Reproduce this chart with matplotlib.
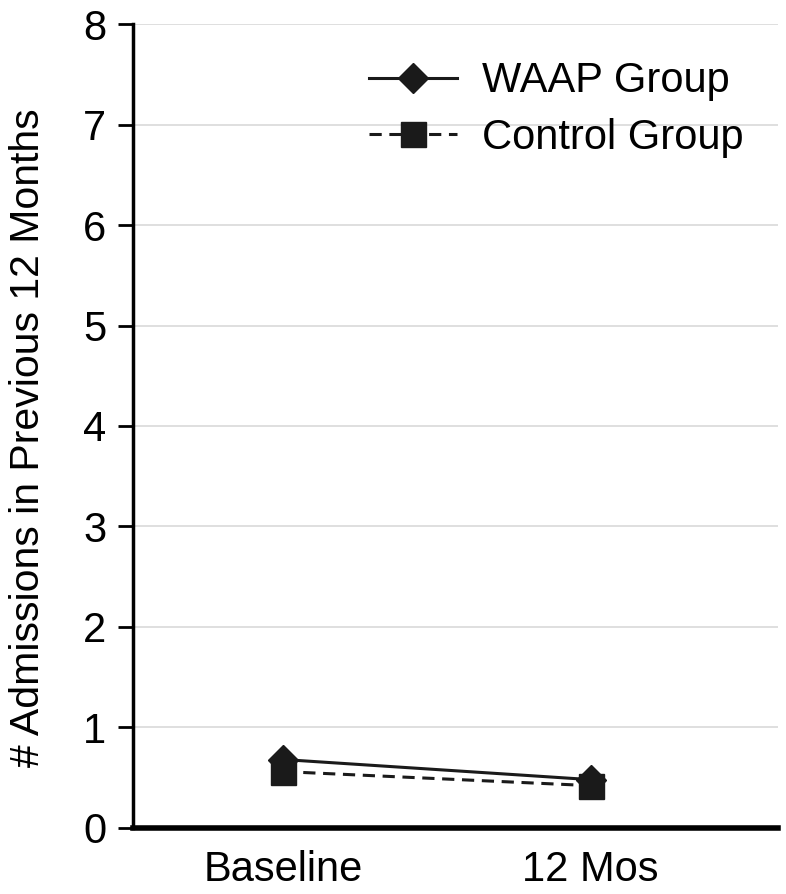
import matplotlib
matplotlib.use("Agg")
import matplotlib.pyplot as plt

timepoints = ["Baseline", "12 Mos"]
waap_group = [0.68, 0.48]
control_group = [0.56, 0.42]
y_ticks = [0, 1, 2, 3, 4, 5, 6, 7, 8]

plt.rcParams["font.family"] = ["Liberation Sans", "DejaVu Sans"]

fig = plt.figure(figsize=(7.86, 8.94), dpi=100)
ax = fig.add_axes([0.169, 0.074, 0.821, 0.899])

x = list(range(len(timepoints)))
ax.plot(x, waap_group, color="#1a1a1a", lw=2.2, marker="D", ms=15,
        label="WAAP Group", zorder=3)
ax.plot(x, control_group, color="#1a1a1a", lw=2.2, ls=(0, (4, 2.5)), marker="s",
        ms=18, label="Control Group", zorder=3)

ax.set_ylim(0, 8)
ax.set_xlim(-0.49, 1.61)
ax.set_yticks(y_ticks)
ax.set_xticks(x)
ax.set_xticklabels(timepoints)
ax.yaxis.grid(True, color="#d9d9d9", lw=1.2)
ax.set_axisbelow(True)

for side in ["top", "right"]:
    ax.spines[side].set_visible(False)
ax.spines["left"].set_linewidth(2.5)
ax.spines["bottom"].set_linewidth(4)
ax.tick_params(axis="y", direction="out", length=11, width=2, labelsize=30, pad=8)
ax.tick_params(axis="x", length=0, labelsize=30, pad=16)

ax.set_ylabel("# Admissions in Previous 12 Months", fontsize=29.5)
ax.yaxis.set_label_coords(-0.133, 0.486)

ax.legend(loc="upper right", frameon=False, fontsize=30, handlelength=2.1,
          handletextpad=0.6, borderaxespad=0.2, labelspacing=0.4,
          bbox_to_anchor=(0.985, 0.985))

fig.savefig("out.png", dpi=100)
